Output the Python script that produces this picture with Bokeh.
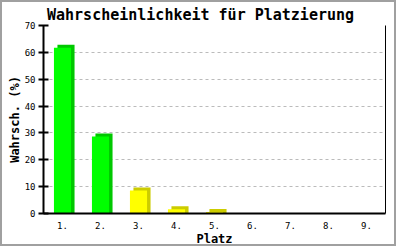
from bokeh.plotting import figure
from bokeh.models import (FactorRange, Range1d, FixedTicker, LinearAxis,
                          ColumnDataSource, Title)
from bokeh.transform import dodge
from bokeh.embed import file_html
from bokeh.resources import INLINE

# ---- data ----
places = ["1.", "2.", "3.", "4.", "5.", "6.", "7.", "8.", "9."]
probabilities = [61.7, 28.7, 8.6, 1.6, 0.6, 0, 0, 0, 0]
bar_colors = ["#00FF00", "#00FF00", "#FFFF00", "#FFFF00", "#FFFF00",
              "#FFFF00", "#FFFF00", "#FFFF00", "#FFFF00"]
shade_colors = ["#00C800", "#00C800", "#CCCC00", "#CCCC00", "#CCCC00",
                "#CCCC00", "#CCCC00", "#CCCC00", "#CCCC00"]
y_ticks = [0, 10, 20, 30, 40, 50, 60, 70]
title_text = "Wahrscheinlichkeit für Platzierung"
x_title = "Platz"
y_title = "Wahrsch. (%)"

B = 2                      # outer gray border width (css)
W, H = 400 - 2 * B, 250 - 2 * B
# frame box in page pixels, converted to canvas pixels
FL, FR, FT, FB = 43 - B, 385 - B, 25 - B, 214 - B
YMAX = 70
FONT = "DejaVu Sans Mono"
TITLE_PX = 15
title_w = len(title_text) * 0.602 * TITLE_PX   # monospace advance width

p = figure(width=W, height=H, output_backend="svg", toolbar_location=None,
           x_range=FactorRange(*places, range_padding=0),
           y_range=Range1d(0, YMAX),
           min_border_left=FL, min_border_right=W - FR, min_border_top=FT,
           min_border_bottom=H - FB, outline_line_color=None,
           background_fill_color="white", border_fill_color="white",
           title=Title(text=title_text, align="left", text_font=FONT,
                       text_font_style="bold",
                       text_font_size=f"{TITLE_PX}px",
                       text_color="black", standoff=3,
                       offset=W / 2 - title_w / 2 - FL))
p.styles = {"border": f"{B}px solid #A0A0A0"}

# shadow offsets in data units (approx 3.5px right, 3px up)
px_x = 1.0 / ((FR - FL) / len(places))
px_y = YMAX / (FB - FT)
dx, dy = 3.5 * px_x, 3.0 * px_y
bw = 0.45

nz = [i for i, v in enumerate(probabilities) if v > 0]
src = ColumnDataSource(dict(
    x=[places[i] for i in nz],
    top=[probabilities[i] for i in nz],
    top_s=[probabilities[i] + dy for i in nz],
    c=[bar_colors[i] for i in nz],
    s=[shade_colors[i] for i in nz],
))

p.vbar(x=dodge("x", dx, range=p.x_range), top="top_s", bottom=0, width=bw,
       fill_color="s", line_color=None, source=src)
p.vbar(x="x", top="top", bottom=0, width=bw, fill_color="c", line_color=None,
       source=src)

# axes
p.xaxis.major_tick_line_color = None
p.xaxis.minor_tick_line_color = None
p.xaxis.axis_line_width = 2
p.xaxis.axis_line_color = "black"
p.xaxis.major_label_text_font = FONT
p.xaxis.major_label_text_font_size = "9px"
p.xaxis.major_label_text_color = "black"
p.xaxis.major_label_standoff = 2
p.xaxis.axis_label = x_title
p.xaxis.axis_label_text_font = FONT
p.xaxis.axis_label_text_font_style = "bold"
p.xaxis.axis_label_text_font_size = "12px"
p.xaxis.axis_label_text_color = "black"
p.xaxis.axis_label_standoff = 0

p.yaxis.ticker = FixedTicker(ticks=y_ticks)
p.yaxis.minor_tick_line_color = None
p.yaxis.major_tick_in = 5
p.yaxis.major_tick_out = 5
p.yaxis.major_tick_line_width = 2
p.yaxis.major_tick_line_color = "black"
p.yaxis.axis_line_width = 2
p.yaxis.axis_line_color = "black"
p.yaxis.major_label_text_font = FONT
p.yaxis.major_label_text_font_size = "9px"
p.yaxis.major_label_text_color = "black"
p.yaxis.major_label_standoff = 3
p.yaxis.axis_label = y_title
p.yaxis.axis_label_text_font = FONT
p.yaxis.axis_label_text_font_style = "bold"
p.yaxis.axis_label_text_font_size = "12px"
p.yaxis.axis_label_text_color = "black"
p.yaxis.axis_label_standoff = 0

right = LinearAxis(ticker=FixedTicker(ticks=[]), major_tick_line_color=None,
                   minor_tick_line_color=None, axis_line_color="black",
                   axis_line_width=1)
p.add_layout(right, "right")

p.xgrid.grid_line_color = None
p.ygrid.ticker = FixedTicker(ticks=y_ticks[1:])
p.ygrid.grid_line_color = "#BBBBBB"
p.ygrid.grid_line_dash = "3 3"
p.ygrid.grid_line_width = 1

open("out.html", "w").write(file_html(p, INLINE))
